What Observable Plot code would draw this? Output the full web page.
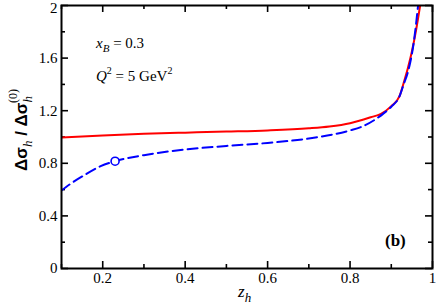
<!DOCTYPE html>
<html><head><meta charset="utf-8">
<script src="https://cdn.jsdelivr.net/npm/d3@7"></script>
<script src="https://cdn.jsdelivr.net/npm/@observablehq/plot@0.6"></script>
<style>body{margin:0;background:#fff}svg{display:block}</style>
</head><body><div id="c"></div>
<script>
const zRed = [0.1,0.2,0.3,0.4,0.5,0.6,0.7,0.75,0.8,0.85,0.875,0.9,0.92,0.93,0.94,0.95,0.96,0.97];
const red  = [0.996,1.012,1.024,1.033,1.041,1.05,1.066,1.08,1.105,1.15,1.176,1.235,1.31,1.41,1.52,1.65,1.81,2.0];
const zBlue = [0.1,0.12,0.154,0.195,0.23,0.3,0.4,0.5,0.6,0.72,0.8,0.826,0.88,0.9,0.92,0.93,0.94,0.955,0.965];
const blue  = [0.593,0.64,0.707,0.778,0.816,0.862,0.905,0.932,0.955,0.998,1.05,1.075,1.176,1.23,1.31,1.40,1.49,1.73,2.0];
const markerZ = [0.23], markerV = [0.816];
const xMajor = [0.2,0.4,0.6,0.8,1.0];
const xMinor = [0.1,0.3,0.5,0.7,0.9];
const yMajor = [0,0.4,0.8,1.2,1.6,2.0];
const yMinor = [0.2,0.6,1.0,1.4,1.8];

const W = 436, H = 306, mL = 61, mR = 4, mT = 5, mB = 38;
const pw = W - mL - mR, ph = H - mT - mB;
const redData = zRed.map((z,i)=>({z, v: red[i]}));
const blueData = zBlue.map((z,i)=>({z, v: blue[i]}));
const mk = markerZ.map((z,i)=>({z, v: markerV[i]}));
const serif = "Liberation Serif";
const sans = "Liberation Sans";
const fmt = d=>d3.format("~g")(d);

const plot = Plot.plot({
  width: W, height: H,
  marginLeft: mL, marginRight: mR, marginTop: mT, marginBottom: mB,
  x: {domain: [0.1, 1]},
  y: {domain: [0, 2]},
  style: {fontFamily: "Liberation Serif", fontSize: "15px", color: "#000", background: "#fff", overflow: "visible"},
  marks: [
    Plot.tickX(xMajor, {x: d=>d, insetTop: ph-7, stroke: "#000", strokeWidth: 1.6}),
    Plot.tickX(xMinor, {x: d=>d, insetTop: ph-4, stroke: "#000", strokeWidth: 1.6}),
    Plot.tickX(xMajor, {x: d=>d, insetBottom: ph-7, stroke: "#000", strokeWidth: 1.6}),
    Plot.tickX(xMinor, {x: d=>d, insetBottom: ph-4, stroke: "#000", strokeWidth: 1.6}),
    Plot.tickY(yMajor, {y: d=>d, insetRight: pw-7, stroke: "#000", strokeWidth: 1.6}),
    Plot.tickY(yMinor, {y: d=>d, insetRight: pw-4, stroke: "#000", strokeWidth: 1.6}),
    Plot.tickY(yMajor, {y: d=>d, insetLeft: pw-7, stroke: "#000", strokeWidth: 1.6}),
    Plot.tickY(yMinor, {y: d=>d, insetLeft: pw-4, stroke: "#000", strokeWidth: 1.6}),
    Plot.axisX({ticks: xMajor, tickSize: 0, tickPadding: 4, label: null, fontSize: 15, tickFormat: fmt}),
    Plot.axisY({ticks: yMajor.slice(0, -1), tickSize: 0, tickPadding: 4, label: null, fontSize: 15, tickFormat: fmt}),
    Plot.axisY({ticks: yMajor.slice(-1), tickSize: 0, tickPadding: 4, label: null, fontSize: 15, dy: 3, tickFormat: fmt}),
    Plot.line(redData, {x: "z", y: "v", stroke: "#ff0000", strokeWidth: 2, curve: "monotone-x", clip: true}),
    Plot.line(blueData, {x: "z", y: "v", stroke: "#0000ff", strokeWidth: 2, strokeDasharray: "10,5", curve: "monotone-x", clip: true}),
    Plot.dot(mk, {x: "z", y: "v", r: 4, stroke: "#0000ff", fill: "#fff", strokeWidth: 1.6}),
    Plot.frame({stroke: "#000", strokeWidth: 2})
  ]
});
document.getElementById("c").appendChild(plot);
const svg = d3.select(plot);
svg.selectAll("text").attr("font-family", serif);

// annotations
const t1 = svg.append("text").attr("x", 96).attr("y", 48).attr("text-anchor","start").attr("font-family", serif).attr("font-size", 15);
t1.append("tspan").attr("font-style","italic").text("x");
t1.append("tspan").attr("font-style","italic").attr("font-size",11).attr("dy",4).text("B");
t1.append("tspan").attr("dy",-4).text(" = 0.3");
const t2 = svg.append("text").attr("x", 96).attr("y", 81).attr("text-anchor","start").attr("font-family", serif).attr("font-size", 15);
t2.append("tspan").attr("font-style","italic").text("Q");
t2.append("tspan").attr("font-size",10).attr("dy",-7).text("2");
t2.append("tspan").attr("dy",7).text(" = 5 GeV");
t2.append("tspan").attr("font-size",10).attr("dy",-7).text("2");

svg.append("text").attr("x", 385).attr("y", 246).attr("text-anchor","start").attr("font-family", serif).attr("font-weight","bold").attr("font-size", 17).text("(b)");

// x label
const xl = svg.append("text").attr("x", 238).attr("y", 297).attr("text-anchor","start").attr("font-family", serif).attr("font-size", 17);
xl.append("tspan").attr("font-style","italic").text("z");
xl.append("tspan").attr("font-style","italic").attr("font-size",13).attr("dy",5).text("h");

// y label
const yl = svg.append("text").attr("transform","translate(27,130) rotate(-90)").attr("text-anchor","middle").attr("font-size", 17).attr("font-family", serif);
yl.append("tspan").attr("font-family",sans).attr("font-weight","bold").text("Δσ");
yl.append("tspan").attr("font-style","italic").attr("font-size",13).attr("dy",5).text("h");
yl.append("tspan").attr("font-family",sans).attr("font-weight","bold").attr("dy",-5).text(" / Δσ");
yl.append("tspan").attr("font-style","italic").attr("font-size",13).attr("dy",5).text("h");
yl.append("tspan").attr("font-size",12).attr("dy",-15).attr("dx",-7).text("(0)");
</script></body></html>
